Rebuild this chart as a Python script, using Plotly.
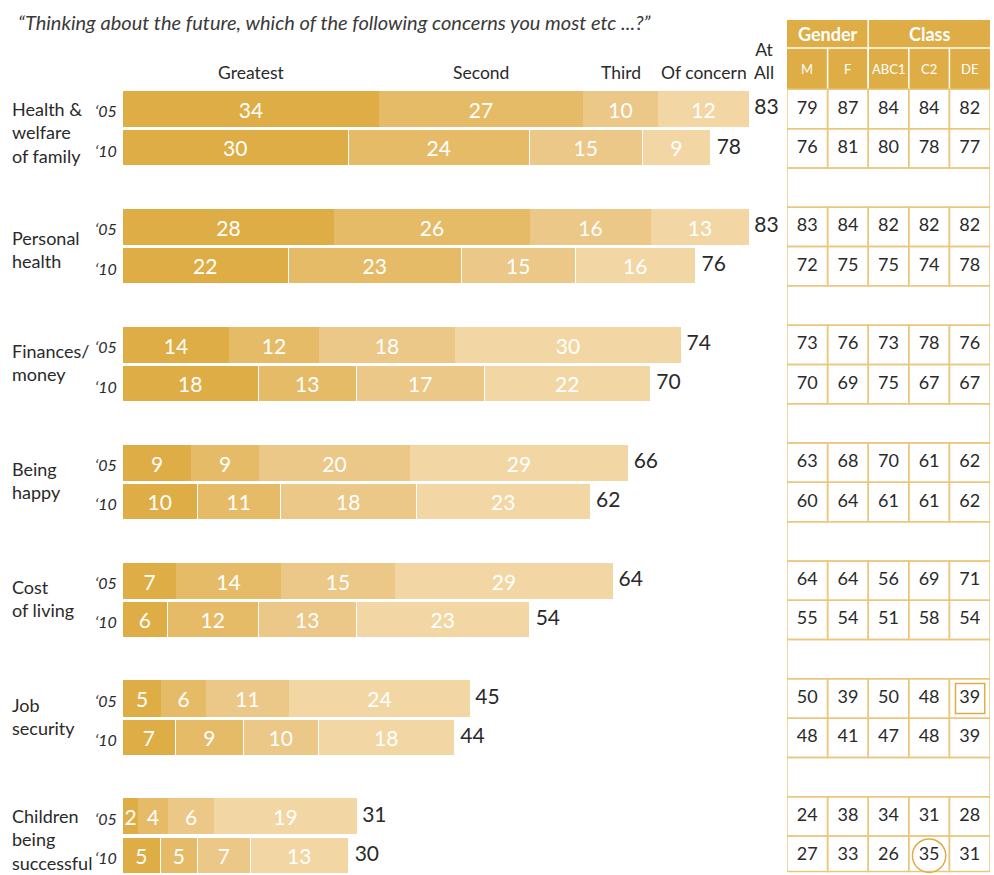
import plotly.graph_objects as go

# ---------------- data ----------------
concerns = ["Health &<br>welfare<br>of family", "Personal<br>health", "Finances/<br>money",
            "Being<br>happy", "Cost<br>of living", "Job<br>security", "Children<br>being<br>successful"]
years = ["‘05", "‘10"]
levels = ["Greatest", "Second", "Third", "Of concern"]

greatest_05 = [34, 28, 14, 9, 7, 5, 2]
greatest_10 = [30, 22, 18, 10, 6, 7, 5]
second_05 = [27, 26, 12, 9, 14, 6, 4]
second_10 = [24, 23, 13, 11, 12, 9, 5]
third_05 = [10, 16, 18, 20, 15, 11, 6]
third_10 = [15, 15, 17, 18, 13, 10, 7]
ofconcern_05 = [12, 13, 30, 29, 29, 24, 19]
ofconcern_10 = [9, 16, 22, 23, 23, 18, 13]
atall_05 = [83, 83, 74, 66, 64, 45, 31]
atall_10 = [78, 76, 70, 62, 54, 44, 30]

table_cols = ["M", "F", "ABC1", "C2", "DE"]
table_groups = [("Gender", 2), ("Class", 3)]
table_05 = [[79, 87, 84, 84, 82], [83, 84, 82, 82, 82], [73, 76, 73, 78, 76], [63, 68, 70, 61, 62],
            [64, 64, 56, 69, 71], [50, 39, 50, 48, 39], [24, 38, 34, 31, 28]]
table_10 = [[76, 81, 80, 78, 77], [72, 75, 75, 74, 78], [70, 69, 75, 67, 67], [60, 64, 61, 61, 62],
            [55, 54, 51, 58, 54], [48, 41, 47, 48, 39], [27, 33, 26, 35, 31]]
boxed = (5, 0, 4)     # group, year index, column
circled = (6, 1, 3)

title = "“Thinking about the future, which of the following concerns you most etc ...?”"

# ---------------- style ----------------
colors = ["#DFAD45", "#E6BB68", "#EBC788", "#F2D7A4"]
line_gold = "#EBC77E"
header_gold = "#DFAD45"
txt = "#2a2a2a"
FONT = "Lato, 'Open Sans', sans-serif"
NUMFONT = "Lato, sans-serif"

W, H = 994, 875
PXU = 39.3                       # pixels per y unit
Y0 = -109 / PXU                  # top of figure in y units
Y1 = Y0 + H / PXU
XPX = 7.542                      # pixels per bar value
XL = 123                         # pixel of bar origin
BAR_RIGHT = 785

def ypos(g, yi):
    return 3 * g + yi

series = [(greatest_05, greatest_10), (second_05, second_10), (third_05, third_10), (ofconcern_05, ofconcern_10)]

fig = go.Figure()
ys = []
for g in range(len(concerns)):
    for yi in range(2):
        ys.append(ypos(g, yi))

for li, (s05, s10) in enumerate(series):
    xs, lw = [], []
    for g in range(len(concerns)):
        xs += [s05[g], s10[g]]
        lw += [0, 1.5]
    fig.add_trace(go.Bar(
        x=xs, y=ys, orientation="h", width=0.92,
        marker=dict(color=colors[li], line=dict(color="white", width=lw)),
        texttemplate="%{x}", textposition="inside", insidetextanchor="middle",
        textfont=dict(color="white", size=21, family=NUMFONT),
        constraintext="none", cliponaxis=False, hoverinfo="skip", name=levels[li]))

# totals
tx, tt = [], []
for g in range(len(concerns)):
    for yi, tot in enumerate([atall_05[g], atall_10[g]]):
        segsum = sum(s[yi][g] for s in series)
        tx.append(segsum)
        tt.append(str(tot))
fig.add_trace(go.Scatter(x=tx, y=ys, mode="text", text=[" " + t for t in tt], textposition="middle right",
                         textfont=dict(size=21, color=txt, family=NUMFONT), cliponaxis=False,
                         hoverinfo="skip"))

# table numbers
cx, cy, ct = [], [], []
for g in range(len(concerns)):
    for yi, tab in enumerate([table_05, table_10]):
        for c in range(len(table_cols)):
            cx.append(c + 0.5)
            cy.append(ypos(g, yi))
            ct.append(str(tab[g][c]))
fig.add_trace(go.Scatter(x=cx, y=cy, mode="text", text=ct, textposition="middle center",
                         textfont=dict(size=18, color=txt, family=FONT), xaxis="x2", yaxis="y",
                         cliponaxis=False, hoverinfo="skip"))

shapes = []
annotations = []
ncol = len(table_cols)
HDR_TOP = (20 - 109) / PXU
HDR_MID = (48 - 109) / PXU
BODY_TOP = -0.5
BODY_BOT = 19.4

# header
shapes.append(dict(type="rect", xref="x2", yref="y", x0=0, x1=ncol, y0=HDR_TOP, y1=BODY_TOP,
                   fillcolor=header_gold, line=dict(width=0), layer="below"))
shapes.append(dict(type="line", xref="x2", yref="y", x0=0, x1=ncol, y0=HDR_MID, y1=HDR_MID,
                   line=dict(color="white", width=1.5)))
start = 0
for name, span in table_groups:
    annotations.append(dict(text="<b>%s</b>" % name, x=start + span / 2, y=(HDR_TOP + HDR_MID) / 2,
                            xref="x2", yref="y", showarrow=False,
                            font=dict(size=18, color="white", family=FONT)))
    if start > 0:
        shapes.append(dict(type="line", xref="x2", yref="y", x0=start, x1=start, y0=HDR_TOP, y1=BODY_TOP,
                           line=dict(color="white", width=1.5)))
    start += span
for c, name in enumerate(table_cols):
    annotations.append(dict(text=name, x=c + 0.5, y=(HDR_MID + BODY_TOP) / 2, xref="x2", yref="y",
                            showarrow=False, font=dict(size=13, color="white", family=FONT)))
    if c > 0:
        shapes.append(dict(type="line", xref="x2", yref="y", x0=c, x1=c, y0=HDR_MID, y1=BODY_TOP,
                           line=dict(color="white", width=1.5)))

# body cells
for g in range(len(concerns)):
    for yi in range(2):
        y = ypos(g, yi)
        for c in range(ncol):
            shapes.append(dict(type="rect", xref="x2", yref="y", x0=c, x1=c + 1, y0=y - 0.5,
                               y1=min(y + 0.5, BODY_BOT), line=dict(color=line_gold, width=1.5),
                               fillcolor="rgba(0,0,0,0)"))
    if g < len(concerns) - 1:
        y = ypos(g, 2)
        shapes.append(dict(type="rect", xref="x2", yref="y", x0=0, x1=ncol, y0=y - 0.5, y1=y + 0.5,
                           line=dict(color=line_gold, width=1.5), fillcolor="rgba(0,0,0,0)"))

# highlights
g, yi, c = boxed
y = ypos(g, yi)
shapes.append(dict(type="rect", xref="x2", yref="y", x0=c + 0.15, x1=c + 0.87, y0=y - 0.38, y1=y + 0.38,
                   line=dict(color=header_gold, width=1.5)))
g, yi, c = circled
y = ypos(g, yi)
shapes.append(dict(type="circle", xref="x2", yref="y", x0=c + 0.09, x1=c + 0.91, y0=y - 0.425, y1=y + 0.425,
                   line=dict(color=header_gold, width=1.5)))

# category and year labels
for g, name in enumerate(concerns):
    nlines = name.count("<br>") + 1
    off = 0.1 if nlines == 3 else -0.05
    if g == 1:
        off = 0.07
    annotations.append(dict(text=name, x=10 / W, xref="paper", xanchor="left", y=ypos(g, 0.5) + off,
                            yref="y", yanchor="middle", align="left", showarrow=False,
                            font=dict(size=18, color=txt, family=FONT)))
    for yi, yr in enumerate(years):
        annotations.append(dict(text="<i>%s</i>" % yr, x=119 / W, xref="paper", xanchor="right",
                                y=ypos(g, yi) + 0.05, yref="y", showarrow=False,
                                font=dict(size=16, color=txt, family=FONT)))

# column headers centred over the first bar's segments
cum = 0
for li, (s05, _) in enumerate(series):
    mid = cum + s05[0] / 2
    cum += s05[0]
    annotations.append(dict(text=levels[li], x=mid, xref="x", y=(72 - 109) / PXU, yref="y",
                            showarrow=False, font=dict(size=17.5, color=txt, family=FONT)))
annotations.append(dict(text="At<br>All", x=(764 - XL) / XPX, xref="x", y=(61 - 109) / PXU, yref="y",
                        showarrow=False, align="center", font=dict(size=17.5, color=txt, family=FONT)))

annotations.append(dict(text="<i>%s</i>" % title, x=16 / W, xref="paper", xanchor="left",
                        y=(22 - 109) / PXU, yref="y", showarrow=False,
                        font=dict(size=20, color="#3a3a3a", family=FONT)))

fig.update_layout(
    width=W, height=H, margin=dict(l=0, r=0, t=0, b=0),
    paper_bgcolor="white", plot_bgcolor="white",
    barmode="stack", bargap=0, showlegend=False, hovermode=False,
    uniformtext=dict(minsize=21, mode="show"),
    xaxis=dict(domain=[0, BAR_RIGHT / W], range=[-XL / XPX, (BAR_RIGHT - XL) / XPX], visible=False,
               fixedrange=True),
    xaxis2=dict(domain=[787 / W, 990 / W], range=[0, ncol], visible=False, anchor="y", fixedrange=True),
    yaxis=dict(range=[Y1, Y0], visible=False, fixedrange=True),
    shapes=shapes, annotations=annotations,
    font=dict(family=FONT),
)

fig.write_html("out.html")
